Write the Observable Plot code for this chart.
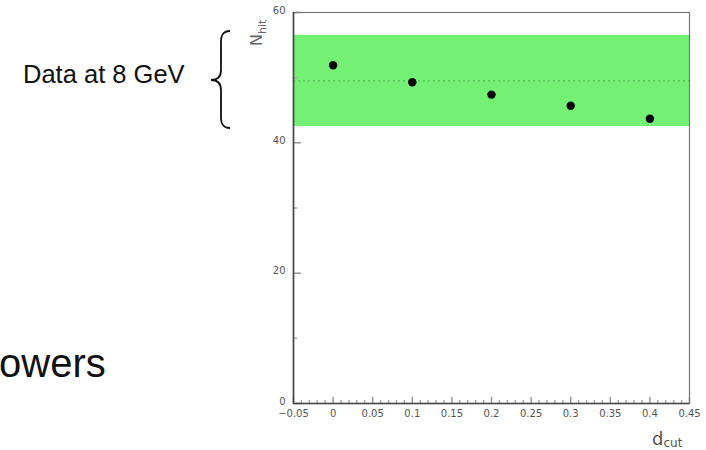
<!DOCTYPE html>
<html>
<head>
<meta charset="utf-8">
<script src="https://cdn.jsdelivr.net/npm/d3@7"></script>
<script src="https://cdn.jsdelivr.net/npm/@observablehq/plot@0.6"></script>
<style>
  html, body { margin: 0; padding: 0; background: #fff; }
  #chart svg { display: block; }
</style>
</head>
<body>
<div id="chart"></div>
<script>
// Mean number of hits versus the distance cut
const dcut = [0, 0.1, 0.2, 0.3, 0.4];
const nhit = [51.9, 49.3, 47.4, 45.7, 43.7];

// Measured range (8 GeV data) and its central value
const bandRange = [42.5, 56.5];
const bandCenter = [49.5];

// Axis ticks
const xTicks = [-0.05, 0, 0.05, 0.1, 0.15, 0.2, 0.25, 0.3, 0.35, 0.4, 0.45];
const yTicks = [0, 20, 40, 60];
const yMinor = [10, 30, 50];
const xMinor = d3.range(-50, 451, 10).map(v => v / 1000)
  .filter(v => !xTicks.some(t => Math.abs(t - v) < 1e-9));

const points = dcut.map((d, i) => ({dcut: d, nhit: nhit[i]}));

// Short inward tick drawn by the vector mark
const tickShape = {
  draw(context, l) {
    context.moveTo(0, 0);
    context.lineTo(0, -l);
  }
};

const fmtX = d => (d < 0 ? "\u2212" : "") + String(+Math.abs(d).toFixed(2));

const chart = Plot.plot({
  width: 706,
  height: 450,
  marginLeft: 293,
  marginRight: 17,
  marginTop: 12,
  marginBottom: 47,
  x: {domain: [-0.05, 0.45]},
  y: {domain: [0, 60]},
  style: {fontFamily: "'DejaVu Sans', sans-serif", fontSize: "10px", color: "#555", background: "white"},
  marks: [
    Plot.rect([bandRange], {y1: d => d[0], y2: d => d[1], fill: "#74f074"}),
    Plot.ruleY(bandCenter, {stroke: "#3d9c3d", strokeWidth: 0.8, strokeDasharray: "2,3"}),
    Plot.vector(xTicks, {x: d => d, frameAnchor: "bottom", length: 6, anchor: "start", rotate: 0, shape: tickShape, stroke: "#999"}),
    Plot.vector(xMinor, {x: d => d, frameAnchor: "bottom", length: 3, anchor: "start", rotate: 0, shape: tickShape, stroke: "#aaa"}),
    Plot.vector(yTicks, {y: d => d, frameAnchor: "left", length: 7, anchor: "start", rotate: 90, shape: tickShape, stroke: "#999"}),
    Plot.vector(yMinor, {y: d => d, frameAnchor: "left", length: 3, anchor: "start", rotate: 90, shape: tickShape, stroke: "#aaa"}),
    Plot.frame({stroke: "#777", strokeWidth: 1.2}),
    Plot.ruleX([-0.05], {stroke: "#444", strokeWidth: 1.6}),
    Plot.ruleY([0], {stroke: "#444", strokeWidth: 1.6}),
    Plot.axisX(xTicks, {tickSize: 0, tickPadding: 6, tickFormat: fmtX, label: null, fill: "#555"}),
    Plot.axisY(yTicks, {tickSize: 0, tickPadding: 8, dy: -2, label: null, fill: "#555"}),
    Plot.dot(points, {x: "dcut", y: "nhit", r: 4.2, fill: "black", stroke: "none"})
  ]
});

const svg = d3.select(chart);

// Axis titles with subscripts
const ny = svg.append("text")
  .attr("transform", "translate(262,46) rotate(-90)")
  .attr("text-anchor", "start")
  .attr("font-family", "'DejaVu Sans', sans-serif")
  .attr("font-size", 16)
  .attr("fill", "#666");
ny.append("tspan").text("N");
ny.append("tspan").attr("font-size", 11).attr("dy", 4).text("hit");

const nx = svg.append("text")
  .attr("x", 652).attr("y", 445)
  .attr("text-anchor", "start")
  .attr("font-family", "'DejaVu Sans', sans-serif")
  .attr("font-size", 18)
  .attr("fill", "#555");
nx.append("tspan").text("d");
nx.append("tspan").attr("font-size", 12).attr("dy", 2).text("cut");

// Side annotation for the data band
svg.append("text")
  .attr("x", 23).attr("y", 83)
  .attr("text-anchor", "start")
  .attr("font-family", "'Liberation Sans', Arial, sans-serif")
  .attr("font-size", 25.5)
  .attr("fill", "#111")
  .text("Data at 8 GeV");

svg.append("path")
  .attr("d", "M230,31 C223,31 221,35 221,42 L221,70 C221,77 218,80 211,80 C218,80 221,83 221,90 L221,117 C221,124 223,128 230,128")
  .attr("fill", "none")
  .attr("stroke", "#111")
  .attr("stroke-width", 1.8);

svg.append("text")
  .attr("x", -1).attr("y", 377)
  .attr("text-anchor", "start")
  .attr("font-family", "'Liberation Sans', Arial, sans-serif")
  .attr("font-size", 40)
  .attr("fill", "#111")
  .text("owers");

document.getElementById("chart").appendChild(chart);
</script>
</body>
</html>
